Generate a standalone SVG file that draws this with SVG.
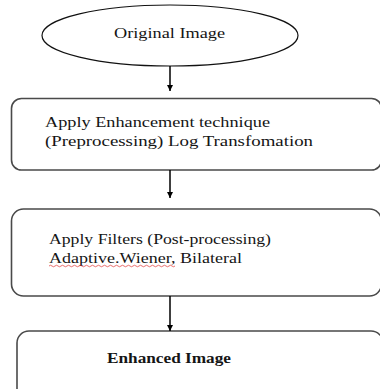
<svg xmlns="http://www.w3.org/2000/svg" width="380" height="389" viewBox="0 0 380 389">
<style>
.box{fill:#fff;stroke:#4a4a4a;stroke-width:1.6}
.ell{fill:#fff;stroke:#111;stroke-width:1.2}
.t{font-family:"Liberation Serif","DejaVu Serif",serif;font-size:14.5px;fill:#151515}
.b{font-weight:bold}
.c{stroke:#000;stroke-width:1.5;fill:none}
</style>
<defs>
<marker id="ah" viewBox="0 0 10 10" refX="10" refY="5" markerWidth="6" markerHeight="6" orient="auto" markerUnits="userSpaceOnUse">
<path d="M0,0 L10,5 L0,10 z" fill="#000"/>
</marker>
</defs>
<rect width="380" height="389" fill="#fff"/>
<g id="n1">
<ellipse class="ell" cx="170" cy="35.5" rx="128" ry="30.5"/>
<text class="t" x="114" y="38" textLength="111" lengthAdjust="spacingAndGlyphs">Original  Image</text>
</g>
<g id="n2">
<rect class="box" x="11.5" y="98.5" width="370" height="71.5" rx="10"/>
<text class="t" x="45" y="127" textLength="225" lengthAdjust="spacingAndGlyphs">Apply Enhancement technique</text>
<text class="t" x="45" y="146" textLength="268" lengthAdjust="spacingAndGlyphs">(Preprocessing) Log  Transfomation</text>
</g>
<g id="n3">
<rect class="box" x="11.5" y="209" width="370" height="87" rx="12"/>
<text class="t" x="49" y="244" textLength="222" lengthAdjust="spacingAndGlyphs">Apply Filters (Post-processing)</text>
<text class="t" x="49" y="263" textLength="193" lengthAdjust="spacingAndGlyphs">Adaptive.Wiener, Bilateral</text>
<path d="M49,266 q1.5,-1.5 3,0 t3,0 t3,0 t3,0 t3,0 t3,0 t3,0 t3,0 t3,0 t3,0 t3,0 t3,0 t3,0 t3,0 t3,0 t3,0 t3,0 t3,0 t3,0 t3,0 t3,0 t3,0 t3,0 t3,0 t3,0 t3,0 t3,0 t3,0 t3,0 t3,0 t3,0 t3,0 t3,0 t3,0 t3,0 t3,0 t3,0 t3,0 t3,0 t3,0 t3,0 t3,0" fill="none" stroke="#e03030" stroke-width="0.7"/>
</g>
<g id="n4">
<rect class="box" x="17" y="331" width="366" height="70" rx="12"/>
<text class="t b" x="107" y="363" textLength="124" lengthAdjust="spacingAndGlyphs">Enhanced Image</text>
</g>
<g id="connectors">
<line class="c" x1="170" y1="66" x2="170" y2="91" marker-end="url(#ah)"/>
<line class="c" x1="170" y1="170" x2="170" y2="198" marker-end="url(#ah)"/>
<line class="c" x1="170" y1="296" x2="170" y2="331" marker-end="url(#ah)"/>
</g>
</svg>
